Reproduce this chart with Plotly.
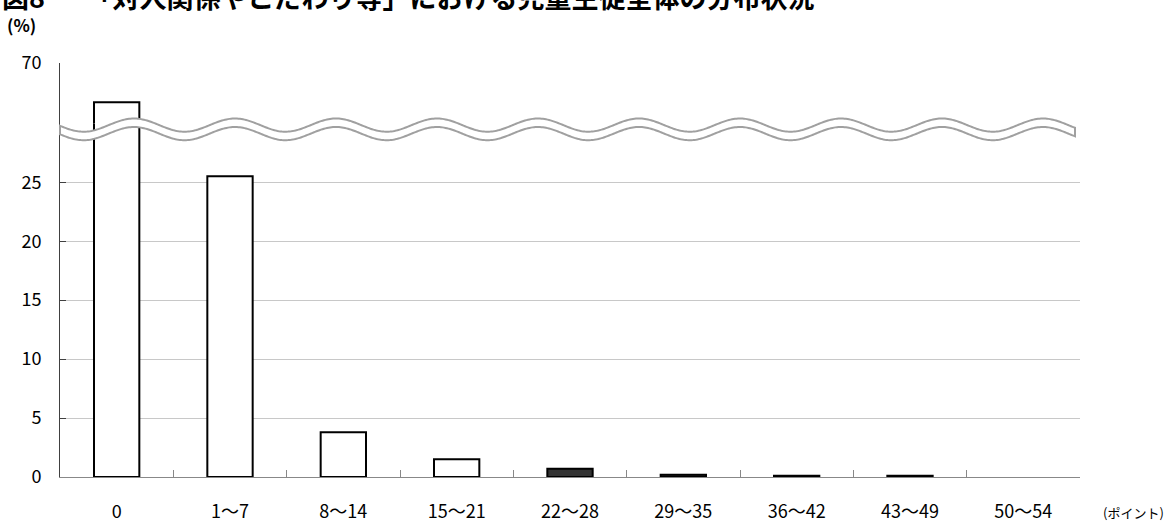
import math
import plotly.graph_objects as go

# ---- data ----
categories = ["0", "1～7", "8～14", "15～21", "22～28", "29～35", "36～42", "43～49", "50～54"]
values = [63.5, 25.5, 3.8, 1.5, 0.7, 0.2, 0.1, 0.1, 0.0]
lower_ticks = [0, 5, 10, 15, 20, 25, 30]
lower_ticktext = ["0", "5", "10", "15", "20", "25", ""]
upper_ticks = [70]
upper_ticktext = ["70"]
title_text = "図8　　「対人関係やこだわり等」における児童生徒全体の分布状況"
y_unit = "(%)"
x_unit = "(ポイント)"

# ---- layout geometry (page pixels) ----
W, H = 1168, 525
PL, PR, PT, PB = 60, 1080, 63, 477  # plot area in page pixels
L, T, R, B = PL, PT, W - PR, H - PB
PW, PH = PR - PL, PB - PT
BREAK_PX = 123.3  # pixel row of the axis break
d = (PB - BREAK_PX) / PH  # paper fraction of lower axis domain

FONT = "Noto Sans CJK JP"
fills = ["#333333" if i >= 4 else "white" for i in range(len(categories))]
line_w = [2 if v > 0 else 0 for v in values]

fig = go.Figure()
for ax in ("y", "y2"):
    fig.add_trace(go.Bar(
        x=categories, y=values, yaxis=ax, xaxis="x",
        width=0.4,
        marker=dict(color=fills, line=dict(color="black", width=line_w)),
        showlegend=False, hoverinfo="x+y",
    ))

def px2paper(X, Y):
    """page pixel -> paper coords"""
    return (X - PL) / PW, (PB - Y) / PH

# wavy break band (decoration)
lam, x0, amp, c_top, gap = 101.0, 134.0, 6.6, 125.1, 8.5
xs = [60 + i * 1.5 for i in range(int((1075 - 60) / 1.5) + 1)]
if xs[-1] < 1075:
    xs.append(1075)
top = [(x, c_top - amp * math.cos(2 * math.pi * (x - x0) / lam)) for x in xs]
bot = [(x, y + gap) for x, y in top][::-1]
pts = [px2paper(x, y) for x, y in top + bot]
path = "M " + " L ".join(f"{a:.5f},{b:.5f}" for a, b in pts) + " Z"
fig.add_shape(type="path", path=path, xref="paper", yref="paper",
              fillcolor="white", line=dict(color="#a0a0a0", width=2), layer="above")

axis_common = dict(
    showline=True, linecolor="#404040", linewidth=1,
    ticks="inside", ticklen=6, tickcolor="#404040", tickwidth=1,
    showgrid=True, gridcolor="#c8c8c8", gridwidth=1,
    zeroline=False, tickfont=dict(family=FONT, size=18, color="black"),
    ticklabelstandoff=14, fixedrange=True,
)

fig.update_layout(
    width=W, height=H,
    margin=dict(l=L, r=R, t=T, b=B, autoexpand=False),
    plot_bgcolor="white", paper_bgcolor="white",
    font=dict(family=FONT, color="black"),
    xaxis=dict(
        type="category", anchor="y", range=[-0.5, len(categories) - 0.5],
        showline=True, linecolor="#888888", linewidth=1,
        ticks="inside", tickson="boundaries", ticklen=7, tickcolor="#888888",
        showgrid=False, tickfont=dict(family=FONT, size=18, color="black"),
        ticklabelstandoff=18, fixedrange=True,
    ),
    yaxis=dict(domain=[0, d], range=[0, 30], tickvals=lower_ticks,
               ticktext=lower_ticktext, anchor="x", **axis_common),
    yaxis2=dict(domain=[d, 1], range=[60, 70], tickvals=upper_ticks,
                ticktext=upper_ticktext, anchor="x", **axis_common),
    annotations=[
        dict(text=f"<b>{title_text}</b>", xref="paper", yref="paper",
             x=px2paper(0, 0)[0], y=px2paper(0, -3)[1], xanchor="left", yanchor="middle",
             showarrow=False, font=dict(family=FONT, size=27, color="black")),
        dict(text=f"<b>{y_unit}</b>", xref="paper", yref="paper",
             x=px2paper(5, 0)[0], y=px2paper(0, 24)[1], xanchor="left", yanchor="middle",
             showarrow=False, font=dict(family=FONT, size=17, color="black")),
        dict(text=x_unit, xref="paper", yref="paper",
             x=px2paper(1166, 0)[0], y=px2paper(0, 512)[1], xanchor="right", yanchor="middle",
             showarrow=False, font=dict(family=FONT, size=13, color="black")),
    ],
)

fig.write_html(
    "out.html",
    config={"displayModeBar": False, "staticPlot": True},
    post_script="document.body.style.margin='0';document.body.style.overflow='hidden';",
)
